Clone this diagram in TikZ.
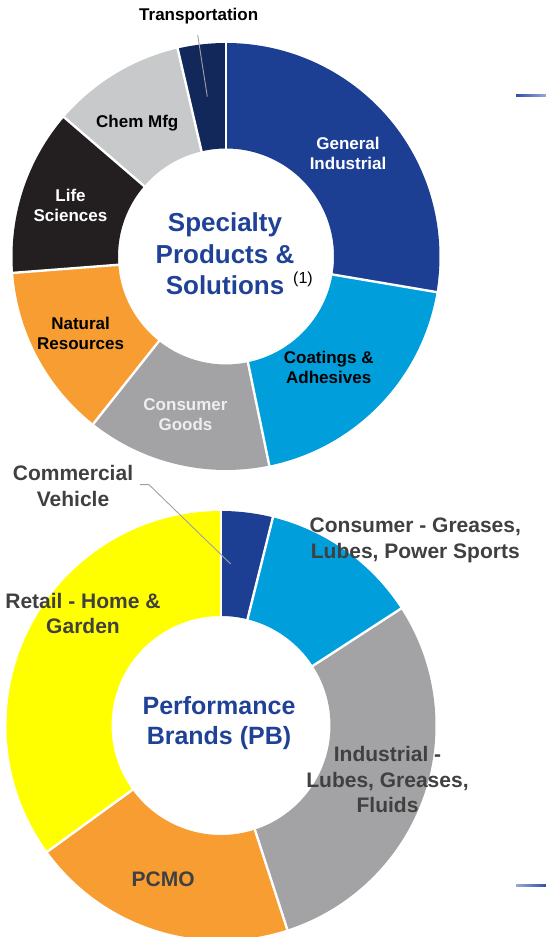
\documentclass[tikz,border=0pt]{standalone}
\usepackage{fontspec}
\setmainfont{Liberation Sans}
\definecolor{gind}{HTML}{1C3F94}
\definecolor{navy}{HTML}{13285A}
\definecolor{chem}{HTML}{C8C9CA}
\definecolor{life}{HTML}{231F20}
\definecolor{natres}{HTML}{F89D31}
\definecolor{cgoods}{HTML}{A3A3A5}
\definecolor{coat}{HTML}{009FDC}
\definecolor{yell}{HTML}{FFFF00}
\definecolor{ttlblue}{HTML}{1F4196}
\definecolor{lbgray}{HTML}{404040}
\definecolor{leadgray}{HTML}{A0A0A0}
\definecolor{cgtext}{HTML}{EEEEEE}
\definecolor{edgeblue}{HTML}{3050A8}
\definecolor{edgelight}{HTML}{9AAAD6}
% color, center, a1, a2, R, r
\newcommand\ringseg[6]{%
  \fill[#1, shift={(#2)}] (#3:#5) arc[start angle=#3, end angle=#4, radius=#5]
    -- (#4:#6) arc[start angle=#4, end angle=#3, radius=#6] -- cycle;}
% center, angle, r, R
\newcommand\ringsep[4]{%
  \draw[sepline, shift={(#1)}] (#2:#3) -- (#2:#4);}
\begin{document}
\begin{tikzpicture}[x=1pt,y=1pt,
  lbl/.style={font=\bfseries\fontsize{17}{20}\selectfont, align=center, anchor=base, inner sep=0pt},
  blbl/.style={font=\bfseries\fontsize{21}{25.5}\selectfont, align=center, anchor=base, inner sep=0pt, text=lbgray},
  ttl/.style={font=\bfseries\fontsize{26}{31.5}\selectfont, align=center, anchor=base, inner sep=0pt, text=ttlblue},
  bttl/.style={font=\bfseries\fontsize{25}{30.7}\selectfont, align=center, anchor=base, inner sep=0pt, text=ttlblue},
  sepline/.style={white, line width=2.4pt},
  leader/.style={draw=leadgray, line width=0.9pt}]
\useasboundingbox (0,0) rectangle (546,937);
\coordinate (topc) at (226,680.5);
\coordinate (botc) at (221,211.5);
% ---- top donut
\ringseg{gind}{topc}{90}{-9.6}{213.5}{108}
\ringseg{coat}{topc}{-9.6}{-78.3}{213.5}{108}
\ringseg{cgoods}{topc}{-78.3}{-128.4}{213.5}{108}
\ringseg{natres}{topc}{-128.4}{-175.6}{213.5}{108}
\ringseg{life}{topc}{-175.6}{-220.7}{213.5}{108}
\ringseg{chem}{topc}{-220.7}{-256.9}{213.5}{108}
\ringseg{navy}{topc}{-256.9}{-270}{213.5}{108}
\foreach \a in {90,-9.6,-78.3,-128.4,-175.6,-220.7,-256.9}{\ringsep{topc}{\a}{105}{216}}
% ---- bottom donut
\ringseg{gind}{botc}{90}{76}{214.5}{109.5}
\ringseg{coat}{botc}{76}{33}{214.5}{109.5}
\ringseg{cgoods}{botc}{33}{-72}{214.5}{109.5}
\ringseg{natres}{botc}{-72}{-144}{214.5}{109.5}
\ringseg{yell}{botc}{-144}{-270}{214.5}{109.5}
\foreach \a in {90,76,33,-72,-144}{\ringsep{botc}{\a}{106}{217}}
% ---- top labels (anchor = baseline of last line)
\node[lbl] (trans) at (198.7,916.3) {Transportation};
\coordinate (transtop) at (197.7,902);
\coordinate (transend) at (207.3,840.3);
\draw[leader] (transtop) -- (transend);
\node[lbl] (chemmfg) at (137.3,809.7) {Chem Mfg};
\node[lbl, text=white] (lifesci) at (70.5,715.3) {Life\\Sciences};
\node[lbl, text=white] (genind) at (348,767) {General\\Industrial};
\node[lbl] (natres) at (80.6,587) {Natural\\Resources};
\node[lbl] (coatadh) at (328.7,553.7) {Coatings \&\\Adhesives};
\node[lbl, text=cgtext] (congoods) at (185.5,506.3) {Consumer\\Goods};
\node[ttl] (sps) at (225,642) {Specialty\\Products \&\\Solutions\rlap{\hspace{9pt}\raisebox{11.5pt}{\mdseries\fontsize{16}{16}\selectfont\color{black}(1)}}};
% ---- bottom labels
\node[blbl] (comveh) at (73,430.8) {Commercial\\Vehicle};
\coordinate (cvstart) at (140,452.3);
\coordinate (cvbend) at (149,452.3);
\coordinate (cvend) at (230.7,373);
\draw[leader] (cvstart) -- (cvbend) -- (cvend);
\node[blbl] (consumer) at (415.3,378.8) {Consumer - Greases,\\Lubes, Power Sports};
\node[blbl] (retail) at (83,303.2) {Retail - Home \&\\Garden};
\node[bttl] (pb) at (219,192) {Performance\\Brands (PB)};
\node[blbl] (industrial) at (387.5,124.3) {Industrial -\\Lubes, Greases,\\Fluids};
\node[blbl] (pcmo) at (163.2,50.3) {PCMO};
% ---- edge marks
\shade[left color=edgeblue, right color=edgelight] (516,840.6) rectangle (546,842);
\shade[left color=edgelight, right color=edgeblue] (516,50.6) rectangle (546,52);
\end{tikzpicture}
\end{document}
